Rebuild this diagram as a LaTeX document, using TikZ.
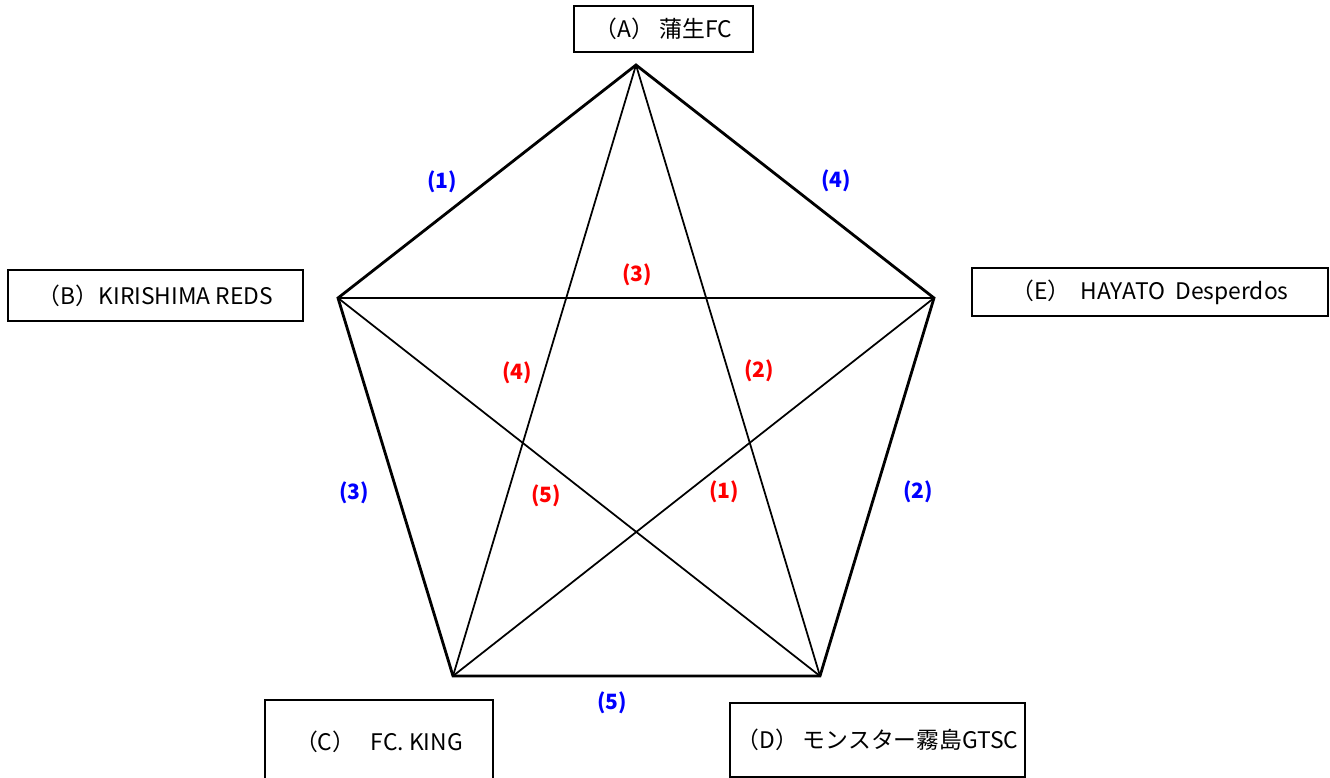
\documentclass[tikz,border=0pt]{standalone}
\usepackage{fontspec}
\setmainfont{Noto Sans CJK JP}
\usepackage{tikz}
\usetikzlibrary{positioning, calc}
\definecolor{teamblue}{HTML}{0000FF}
\definecolor{teamred}{HTML}{FF0000}
\tikzstyle{outer} = [line width=1.6pt, line join=miter]
\tikzstyle{inner} = [line width=1pt]

\begin{document}
\begin{tikzpicture}[x=0.02cm, y=-0.02cm, every node/.style={align=center},
    teambox/.style={rectangle, draw=black, line width=0.7pt, font=\fontsize{13}{15}\selectfont, inner sep=0pt},
    roundb/.style={font=\bfseries\fontsize{12}{14}\selectfont, text=teamblue},
    roundr/.style={font=\bfseries\fontsize{12}{14}\selectfont, text=teamred}
  ]
    \useasboundingbox (0,0) rectangle (1330,778);
    % pentagon corners
    \coordinate (a) at (636,65);
    \coordinate (b) at (338,298);
    \coordinate (e) at (934,298);
    \coordinate (c) at (453,676);
    \coordinate (d) at (820,676);

    % team boxes
    \node[teambox, minimum width=3.58cm, minimum height=0.92cm] (ta) at (663.5,29) {（A） 蒲生FC};
    \node[teambox, minimum width=5.9cm, minimum height=1.02cm] (tb) at (155.5,295.5) {（B）KIRISHIMA REDS};
    \node[teambox, minimum width=7.12cm, minimum height=0.96cm] (te) at (1150,292) {（E）\ \ HAYATO\ \ Desperdos};
    \node[teambox, minimum width=4.56cm, minimum height=1.68cm] (tc) at (379,742) {（C）\ \ \ FC.\ KING};
    \node[teambox, minimum width=5.9cm, minimum height=1.48cm] (td) at (877.5,740) {（D） モンスター霧島GTSC};

    % outer edges
    \draw[outer] (a) -- (e) -- (d) -- (c) -- (b) -- cycle;
    % diagonals
    \draw[inner] (a) -- (c);
    \draw[inner] (a) -- (d);
    \draw[inner] (b) -- (e);
    \draw[inner] (b) -- (d);
    \draw[inner] (e) -- (c);

    % round labels
    \node[roundb] (o1) at (442,182) {(1)};
    \node[roundb] (o4) at (836,181) {(4)};
    \node[roundb] (o3) at (354,493) {(3)};
    \node[roundb] (o2) at (918,492) {(2)};
    \node[roundb] (o5) at (612,703) {(5)};
    \node[roundr] (i3) at (637,275) {(3)};
    \node[roundr] (i4) at (517,373) {(4)};
    \node[roundr] (i2) at (759,371) {(2)};
    \node[roundr] (i5) at (546,496) {(5)};
    \node[roundr] (i1) at (724,492) {(1)};
  \end{tikzpicture}
\end{document}
